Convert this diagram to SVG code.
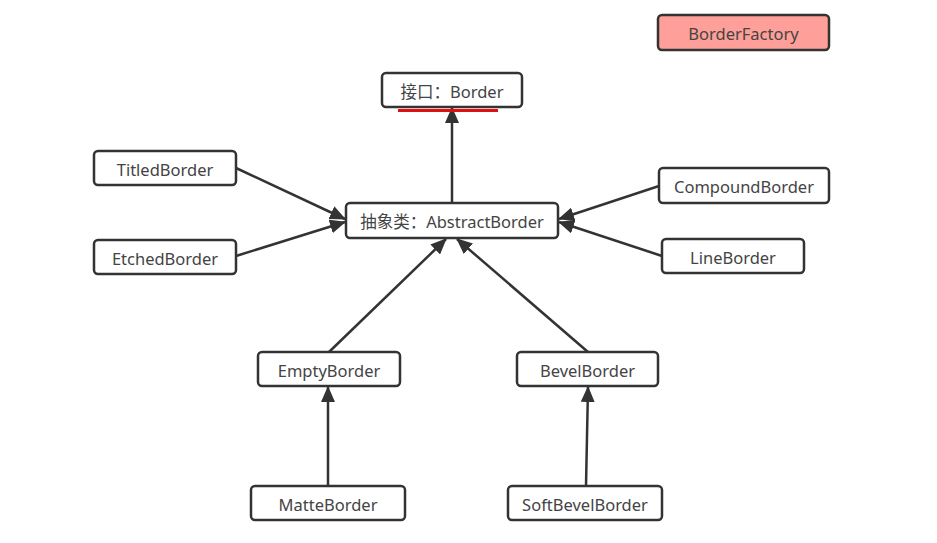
<svg xmlns="http://www.w3.org/2000/svg" width="937" height="543" viewBox="0 0 937 543">
<style>
.n rect{fill:#fff;stroke:#333;stroke-width:2.5;}
.n text{font-family:"Noto Sans","Noto Sans CJK SC",sans-serif;font-size:16.5px;fill:#444;text-anchor:middle;dominant-baseline:central;}
.c line{stroke:#333;stroke-width:2.5;marker-end:url(#ah);}
</style>
<defs>
<marker id="ah" markerWidth="16" markerHeight="14" refX="15" refY="7" orient="auto" markerUnits="userSpaceOnUse" viewBox="0 0 16 14">
<path d="M0,0 L16,7 L0,14 Z" fill="#333"/>
</marker>
</defs>
<rect width="937" height="543" fill="#fff"/>
<g class="c">
<line x1="452" y1="203" x2="452" y2="108"/>
<line x1="236" y1="168" x2="345" y2="219"/>
<line x1="236" y1="256" x2="345" y2="222"/>
<line x1="659" y1="186" x2="559" y2="219"/>
<line x1="662" y1="256" x2="559" y2="222"/>
<line x1="329" y1="352" x2="446" y2="239"/>
<line x1="588" y1="352" x2="457" y2="239"/>
<line x1="328" y1="486" x2="328" y2="387"/>
<line x1="586" y1="486" x2="588" y2="387"/>
</g>
<g id="border" class="n"><rect x="382" y="73" width="140" height="34" rx="4"/><text x="452" y="91">接口：Border</text></g>
<line x1="398" y1="110.5" x2="498" y2="110.5" stroke="#e01010" stroke-width="3"/>
<g id="borderfactory" class="n"><rect x="658" y="15" width="171" height="35" rx="4" style="fill:#ff9f99"/><text x="743.5" y="33">BorderFactory</text></g>
<g id="abstractborder" class="n"><rect x="346" y="203" width="212" height="35" rx="4"/><text x="452" y="221">抽象类：AbstractBorder</text></g>
<g id="titledborder" class="n"><rect x="94" y="151" width="142" height="34" rx="4"/><text x="165" y="169">TitledBorder</text></g>
<g id="etchedborder" class="n"><rect x="94" y="240" width="142" height="34" rx="4"/><text x="165" y="258">EtchedBorder</text></g>
<g id="compoundborder" class="n"><rect x="659" y="168" width="170" height="35" rx="4"/><text x="744" y="186">CompoundBorder</text></g>
<g id="lineborder" class="n"><rect x="662" y="239" width="142" height="34" rx="4"/><text x="733" y="257">LineBorder</text></g>
<g id="emptyborder" class="n"><rect x="258" y="352" width="142" height="34" rx="4"/><text x="329" y="370">EmptyBorder</text></g>
<g id="bevelborder" class="n"><rect x="517" y="352" width="141" height="34" rx="4"/><text x="587.5" y="370">BevelBorder</text></g>
<g id="matteborder" class="n"><rect x="251" y="486" width="154" height="34" rx="4"/><text x="328" y="504">MatteBorder</text></g>
<g id="softbevelborder" class="n"><rect x="508" y="486" width="154" height="34" rx="4"/><text x="585" y="504">SoftBevelBorder</text></g>
</svg>
